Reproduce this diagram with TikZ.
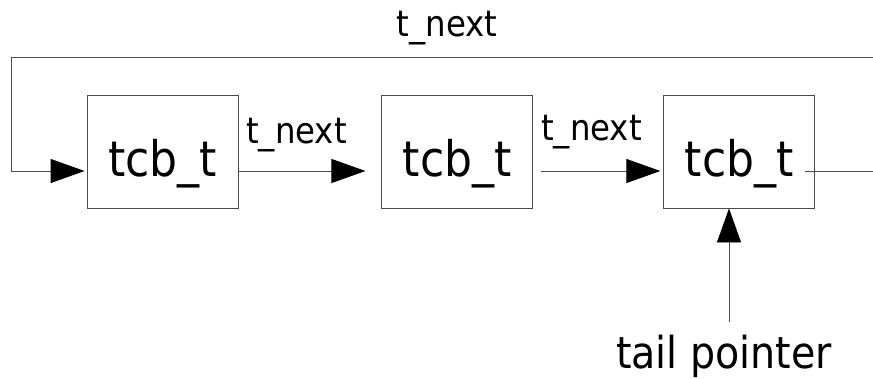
\documentclass[tikz,border=0pt]{standalone}
\usepackage{fontspec}
\setmainfont{DejaVu Sans Condensed}
\usepackage{tikz}
\usetikzlibrary{arrows.meta, positioning}

\begin{document}
\begin{tikzpicture}[x=1pt, y=-1pt]
	\tikzstyle{sharp} = [-{Triangle[length=34pt,width=24pt,color=black]}]
	\tikzstyle{wire} = [draw=black!70, line width=0.9pt]
	\tikzstyle{tcb} = [draw=black!70, line width=0.9pt, rectangle, inner sep=0pt, minimum width=151pt, text height=81pt, text depth=32pt, font=\fontsize{49}{51}\selectfont]
	\useasboundingbox (0,0) rectangle (873,378);
	\node (tcbA) [tcb] at (162.5,151.5) {tcb\_t};
	\node (tcbB) [tcb, right=143pt of tcbA] {tcb\_t};
	\node (tcbC) [tcb, right=130pt of tcbB] {tcb\_t};
	\coordinate (loopL) at (11,57);
	\coordinate (loopR) at (873,57);
	\coordinate (outR) at (873,171);
	\coordinate (tailEnd) at (729,322);
	\node (nextTop) [anchor=base, font=\fontsize{36}{38}\selectfont] at (447,36) {t\_next};
	\node (nextA) [anchor=base, font=\fontsize{36}{38}\selectfont] at (296.5,143) {t\_next};
	\node (nextB) [anchor=base, font=\fontsize{36}{38}\selectfont] at (591.5,140) {t\_next};
	\node (tail) [anchor=base, font=\fontsize{44}{46}\selectfont] at (724,368) {tail pointer};
	% ring of control blocks
	\draw[wire, sharp] (loopR) -- (loopL) -- (loopL |- outR) -- ([xshift=-2pt]tcbA.west |- outR);
	\draw[wire, sharp] (tcbA.east |- outR) -- ([xshift=-16pt]tcbB.west |- outR);
	\draw[wire, sharp] ([xshift=8pt]tcbB.east |- outR) -- ([xshift=-3pt]tcbC.west |- outR);
	\draw[wire] ([xshift=-10pt]tcbC.east |- outR) -- (outR);
	\draw[wire, sharp] (tailEnd) -- (tailEnd |- tcbC.south);
\end{tikzpicture}
\end{document}
